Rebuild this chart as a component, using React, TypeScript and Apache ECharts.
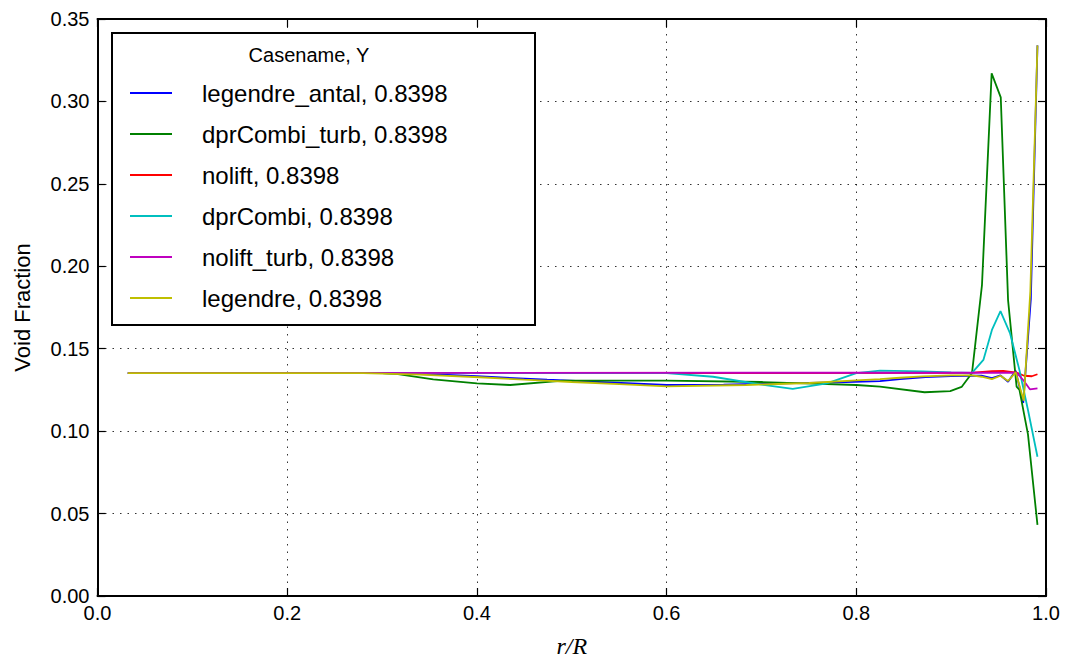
import React, { useEffect, useRef } from "react";
import * as echarts from "echarts";

// ---- data ----
const xTicks = [0, 0.2, 0.4, 0.6, 0.8, 1.0];
const yTicks = [0, 0.05, 0.1, 0.15, 0.2, 0.25, 0.3, 0.35];

const seriesNames = [
  "legendre_antal, 0.8398",
  "dprCombi_turb, 0.8398",
  "nolift, 0.8398",
  "dprCombi, 0.8398",
  "nolift_turb, 0.8398",
  "legendre, 0.8398",
];
const seriesColors = ["#0000ff", "#008000", "#ff0000", "#00bfbf", "#bf00bf", "#bfbf00"];

const legendreAntalX = [0.032, 0.3, 0.35, 0.4, 0.474, 0.54, 0.6, 0.66, 0.72, 0.78, 0.825, 0.846, 0.873, 0.9, 0.922, 0.932, 0.943, 0.952, 0.96, 0.968, 0.976, 0.984, 0.991];
const legendreAntalY = [0.1352, 0.1352, 0.1345, 0.1333, 0.1312, 0.1295, 0.128, 0.1282, 0.129, 0.1296, 0.1304, 0.1316, 0.1328, 0.1334, 0.1336, 0.1336, 0.1322, 0.1338, 0.13, 0.1367, 0.1171, 0.18, 0.334];

const dprCombiTurbX = [0.032, 0.3, 0.315, 0.354, 0.4, 0.435, 0.491, 0.6, 0.7, 0.754, 0.8, 0.825, 0.872, 0.899, 0.911, 0.922, 0.9325, 0.9427, 0.9523, 0.96, 0.969, 0.972, 0.981, 0.991];
const dprCombiTurbY = [0.1352, 0.1352, 0.1347, 0.1314, 0.129, 0.128, 0.1306, 0.1306, 0.1298, 0.1288, 0.128, 0.127, 0.1236, 0.1243, 0.1268, 0.1353, 0.1886, 0.317, 0.3025, 0.1795, 0.127, 0.125, 0.098, 0.0431];

const noliftX = [0.032, 0.92, 0.943, 0.955, 0.969, 0.977, 0.985, 0.991];
const noliftY = [0.1352, 0.1353, 0.1364, 0.1365, 0.1355, 0.1336, 0.1333, 0.1345];

const dprCombiX = [0.032, 0.6, 0.649, 0.702, 0.733, 0.769, 0.8, 0.825, 0.87, 0.9, 0.922, 0.934, 0.943, 0.952, 0.962, 0.972, 0.981, 0.991];
const dprCombiY = [0.1352, 0.1352, 0.133, 0.128, 0.1256, 0.129, 0.1352, 0.1367, 0.1362, 0.1356, 0.1353, 0.1432, 0.1614, 0.1728, 0.1595, 0.137, 0.1128, 0.0845];

const noliftTurbX = [0.032, 0.969, 0.976, 0.983, 0.991];
const noliftTurbY = [0.1352, 0.1355, 0.131, 0.1254, 0.126];

const legendreX = [0.032, 0.28, 0.34, 0.403, 0.45, 0.5, 0.55, 0.6, 0.684, 0.75, 0.8, 0.825, 0.846, 0.87, 0.9, 0.922, 0.932, 0.943, 0.952, 0.96, 0.968, 0.9765, 0.9835, 0.991];
const legendreY = [0.1352, 0.1352, 0.1343, 0.1327, 0.1312, 0.1298, 0.1285, 0.1272, 0.128, 0.1292, 0.1308, 0.1316, 0.1324, 0.1332, 0.1338, 0.1338, 0.133, 0.1316, 0.1336, 0.1304, 0.1357, 0.1185, 0.185, 0.334];

const seriesX = [legendreAntalX, dprCombiTurbX, noliftX, dprCombiX, noliftTurbX, legendreX];
const seriesY = [legendreAntalY, dprCombiTurbY, noliftY, dprCombiY, noliftTurbY, legendreY];

const FONT = "Liberation Sans";

export default function App() {
  const ref = useRef<HTMLDivElement>(null);

  useEffect(() => {
    if (!ref.current) return;
    const chart = echarts.init(ref.current, undefined, { renderer: "svg" });

    const gridLine = { show: true, lineStyle: { color: "#000", width: 1, type: [1.5, 6] as any, opacity: 0.8 } };
    const axisLine = { show: true, onZero: false, lineStyle: { color: "#000", width: 2 } };
    const axisTick = { show: true, inside: true, length: 8, lineStyle: { color: "#000", width: 1.2 } };

    const series = seriesNames.map((name, i) => ({
      name,
      type: "line",
      data: seriesX[i].map((x, j) => [x, seriesY[i][j]]),
      showSymbol: false,
      symbol: "none",
      color: seriesColors[i],
      lineStyle: { color: seriesColors[i], width: 1.8 },
      z: 2,
    }));

    chart.setOption({
      animation: false,
      backgroundColor: "#fff",
      grid: { left: 97.5, right: 22, top: 19, bottom: 68, containLabel: false },
      xAxis: [
        {
          type: "value",
          min: xTicks[0],
          max: xTicks[xTicks.length - 1],
          interval: 0.2,
          position: "bottom",
          axisLine,
          axisTick,
          splitLine: gridLine,
          axisLabel: {
            color: "#000",
            fontSize: 20,
            fontFamily: FONT,
            margin: 7,
            formatter: (v: number) => v.toFixed(1),
          },
          name: "r/R",
          nameLocation: "middle",
          nameGap: 38,
          nameTextStyle: { color: "#000", fontSize: 24, fontFamily: "Liberation Serif", fontStyle: "italic" },
        },
        {
          type: "value",
          min: xTicks[0],
          max: xTicks[xTicks.length - 1],
          interval: 0.2,
          position: "top",
          axisLine,
          axisTick,
          splitLine: { show: false },
          axisLabel: { show: false },
        },
      ],
      yAxis: [
        {
          type: "value",
          min: yTicks[0],
          max: yTicks[yTicks.length - 1],
          interval: 0.05,
          position: "left",
          axisLine,
          axisTick,
          splitLine: gridLine,
          axisLabel: {
            color: "#000",
            fontSize: 20,
            fontFamily: FONT,
            margin: 8,
            formatter: (v: number) => v.toFixed(2),
          },
          name: "Void Fraction",
          nameLocation: "middle",
          nameGap: 64,
          nameTextStyle: { color: "#000", fontSize: 22, fontFamily: FONT },
        },
        {
          type: "value",
          min: yTicks[0],
          max: yTicks[yTicks.length - 1],
          interval: 0.05,
          position: "right",
          axisLine,
          axisTick,
          splitLine: { show: false },
          axisLabel: { show: false },
        },
      ],
      legend: {
        show: true,
        orient: "vertical",
        left: 130,
        top: 81,
        padding: 0,
        itemGap: 17,
        itemWidth: 42,
        itemHeight: 2,
        icon: "rect",
        selectedMode: false,
        data: seriesNames,
        textStyle: {
          color: "#000",
          fontSize: 24,
          fontFamily: FONT,
          lineHeight: 24,
          padding: [0, 0, 0, 25],
        },
        z: 10,
      },
      graphic: [
        {
          type: "rect",
          z: 5,
          shape: { x: 112, y: 33, width: 423, height: 292 },
          style: { fill: "#fff", stroke: "#000", lineWidth: 2 },
        },
        {
          type: "text",
          z: 6,
          x: 309,
          y: 55,
          style: {
            text: "Casename, Y",
            fill: "#000",
            font: `20px "${FONT}"`,
            textAlign: "center",
            textVerticalAlign: "middle",
          },
        },
      ],
      series,
    });

    return () => chart.dispose();
  }, []);

  return (
    <div
      ref={ref}
      style={{ position: "absolute", left: 0, top: 0, width: 1068, height: 664 }}
    />
  );
}
